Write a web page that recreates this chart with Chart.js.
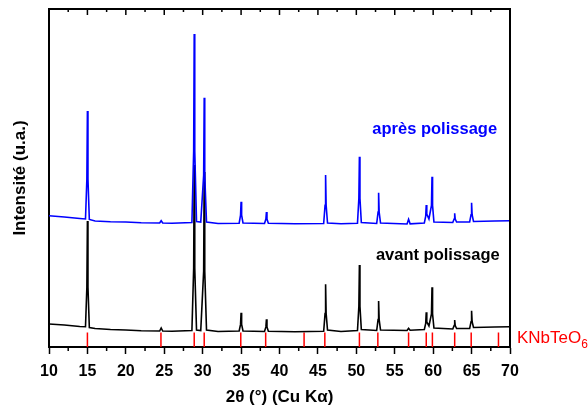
<!DOCTYPE html>
<html><head><meta charset="utf-8">
<script src="https://cdn.jsdelivr.net/npm/chart.js@4"></script>
<style>html,body{margin:0;padding:0;background:#fff;}#wrap{width:588px;height:410px;position:relative;}</style>
</head><body><div id="wrap"><canvas id="c" width="588" height="410"></canvas></div>
<script>
// 2θ (°) sample positions shared by both diffractograms
const twoTheta = [10,12,14,14.75,14.93,15.0,15.07,15.25,16,18,20,22,24.4,24.6,24.8,26,28.6,28.83,28.9,28.97,29.2,29.75,30.13,30.2,30.27,30.5,32,34.75,34.93,35.0,35.07,35.25,38.05,38.23,38.3,38.37,38.55,42,45.75,45.93,46.0,46.07,46.25,48,50.15,50.33,50.4,50.47,50.65,52.65,52.83,52.9,52.97,53.15,56.6,56.8,57.0,58.85,59.03,59.1,59.17,59.45,59.78,59.85,59.92,60.1,62.55,62.73,62.8,62.87,63.05,64.75,64.93,65.0,65.07,65.25,68,70];
// Intensity (u.a.) after polishing (blue, offset upward)
const apresPolissage = [131.3,130,128.5,128,168,236,168,127.5,126,125.3,125,124.3,124,126.3,124,123.7,124.5,196,313,196,125.5,125,171.6,249.3,171.6,125,123.5,123.8,131.8,145.3,131.8,124,123.5,127.9,135,127.9,123.8,123.3,123.5,141.8,172,141.8,124,123.2,123.8,148.7,190.3,148.7,124.5,123.5,134.9,154.3,134.9,124,123,127.7,123.2,124,130.8,142,133,128,141.6,170.3,141.6,125,124.5,128,133.7,128,125,125,132.3,144.3,132.3,125.5,126,126.3];
// Intensity (u.a.) before polishing (black)
const avantPolissage = [23,22,20.5,20.3,60,126,60,19.5,18.5,17.5,17,16.3,16,19,16,15.8,16.5,79,182,79,17,16.5,76,175,76,17,15.5,16,22.6,34.3,22.6,16,15.5,20.1,27.7,20.1,15.8,15.3,15.8,33.4,62.7,33.4,17,15.5,16.5,40.8,82,40.8,17.5,16.5,27.4,46,27.4,17,16.5,18.7,16.8,17.5,23.7,34.7,25,21,33.2,59.7,33.2,19,18,21.4,27,21.4,18.5,18.5,25.3,36.3,25.3,19.5,20,20.3];
// Reference KNbTeO6 reflections (2θ) and marker height
const knbteo6Positions = [15.0,24.57,28.9,30.2,34.96,38.2,43.2,45.9,50.4,52.8,56.8,59.1,59.9,62.8,64.95,68.5];
const knbteo6Marker = 14.5;
const xTickValues = [10,15,20,25,30,35,40,45,50,55,60,65,70];
const xMinorValues = [12.5,17.5,22.5,27.5,32.5,37.5,42.5,47.5,52.5,57.5,62.5,67.5];

const FONT = "'Liberation Sans', Arial, Helvetica, sans-serif";
Chart.defaults.font.family = FONT;

const toXY = (ys) => twoTheta.map((x, i) => ({x: x, y: ys[i]}));
const refData = [];
knbteo6Positions.forEach(p => { refData.push({x:p,y:0}); refData.push({x:p,y:knbteo6Marker}); refData.push({x:p,y:null}); });

const frameAndTicks = {
  id: 'frameAndTicks',
  afterDraw(chart) {
    const {ctx, chartArea: a, scales: {x, y}} = chart;
    ctx.save();
    ctx.strokeStyle = '#000';
    ctx.lineWidth = 2;
    ctx.beginPath();
    ctx.moveTo(a.left - 1, a.top); ctx.lineTo(a.right, a.top); ctx.lineTo(a.right, a.bottom + 1);
    ctx.stroke();
    ctx.lineWidth = 1.5;
    ctx.beginPath();
    xTickValues.forEach(v => { const px = x.getPixelForValue(v); ctx.moveTo(px, a.top); ctx.lineTo(px, a.top + 6); });
    xMinorValues.forEach(v => { const px = x.getPixelForValue(v); ctx.moveTo(px, a.top); ctx.lineTo(px, a.top + 3); ctx.moveTo(px, a.bottom); ctx.lineTo(px, a.bottom + 4); });
    ctx.stroke();
    // labels
    ctx.textBaseline = 'middle';
    ctx.textAlign = 'center';
    ctx.font = "bold 16.5px " + FONT;
    ctx.fillStyle = '#0000ff';
    ctx.fillText('après polissage', x.getPixelForValue(60.2), y.getPixelForValue(218));
    ctx.fillStyle = '#000';
    ctx.fillText('avant polissage', x.getPixelForValue(60.6), y.getPixelForValue(92));
    ctx.textAlign = 'left';
    ctx.fillStyle = '#ff0000';
    ctx.font = "17px " + FONT;
    const kx = a.right + 7, ky = y.getPixelForValue(9);
    ctx.fillText('KNbTeO', kx, ky);
    const w = ctx.measureText('KNbTeO').width;
    ctx.font = "12px " + FONT;
    ctx.fillText('6', kx + w, ky + 7);
    ctx.restore();
  }
};

new Chart(document.getElementById('c'), {
  type: 'line',
  data: {
    datasets: [
      {label: 'après polissage', data: toXY(apresPolissage), borderColor: '#0000ff', borderWidth: 1.6, pointRadius: 0, tension: 0, fill: false},
      {label: 'avant polissage', data: toXY(avantPolissage), borderColor: '#000000', borderWidth: 1.6, pointRadius: 0, tension: 0, fill: false},
      {label: 'KNbTeO6', data: refData, borderColor: '#ff0000', borderWidth: 1.5, pointRadius: 0, tension: 0, spanGaps: false, fill: false}
    ]
  },
  options: {
    responsive: false,
    animation: false,
    devicePixelRatio: 1,
    layout: {padding: {top: 9, right: 78, left: 0, bottom: 0}},
    plugins: {legend: {display: false}, tooltip: {enabled: false}},
    scales: {
      x: {
        type: 'linear', min: 10, max: 70,
        afterFit: (s) => { s.height = 63; },
        afterBuildTicks: (s) => { s.ticks = xTickValues.map(v => ({value: v})); },
        ticks: {autoSkip: false, maxRotation: 0, color: '#000', font: {size: 16, weight: 'bold'}, padding: 8},
        grid: {display: true, drawOnChartArea: false, drawTicks: true, tickLength: 7, tickWidth: 1.5, tickColor: '#000'},
        border: {display: true, color: '#000', width: 2},
        title: {display: true, text: '2θ (°) (Cu Kα)', color: '#000', font: {size: 17, weight: 'bold'}, padding: {top: 0, bottom: 2}}
      },
      y: {
        min: 0, max: 338,
        afterFit: (s) => { s.width = 49; },
        ticks: {display: false},
        grid: {display: false},
        border: {display: true, color: '#000', width: 2},
        title: {display: true, text: 'Intensité (u.a.)', color: '#000', font: {size: 17, weight: 'bold'}, padding: {top: 10, bottom: 0}}
      }
    }
  },
  plugins: [frameAndTicks]
});
</script></body></html>
